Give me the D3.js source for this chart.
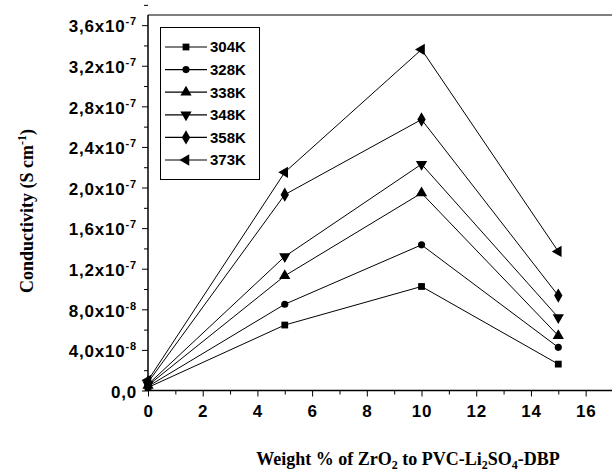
<!DOCTYPE html>
<html>
<head>
<meta charset="utf-8">
<script src="https://cdn.jsdelivr.net/npm/d3@7"></script>
<style>
  body { margin: 0; background: #fff; }
  .tick-lab { font-family: "Liberation Sans", Arial, sans-serif; font-weight: bold; font-size: 17px; }
  .title { font-family: "Liberation Serif", "Times New Roman", serif; font-weight: bold; }
</style>
</head>
<body>
<script>
// data
var weight = [0, 5, 10, 15];
var series = ["304K", "328K", "338K", "348K", "358K", "373K"];
var cond304 = [0.3e-8, 6.45e-8, 10.25e-8, 2.6e-8];
var cond328 = [0.4e-8, 8.5e-8, 14.35e-8, 4.25e-8];
var cond338 = [0.5e-8, 11.3e-8, 19.45e-8, 5.4e-8];
var cond348 = [0.6e-8, 13.2e-8, 22.3e-8, 7.2e-8];
var cond358 = [0.8e-8, 19.3e-8, 26.7e-8, 9.35e-8];
var cond373 = [1.0e-8, 21.5e-8, 33.6e-8, 13.7e-8];
var allCond = [cond304, cond328, cond338, cond348, cond358, cond373];
var xTicks = [0, 2, 4, 6, 8, 10, 12, 14, 16];
var yTicks = [0, 4e-8, 8e-8, 1.2e-7, 1.6e-7, 2.0e-7, 2.4e-7, 2.8e-7, 3.2e-7, 3.6e-7];

var W = 612, H = 474;
var svg = d3.select("body").append("svg")
  .attr("width", W)
  .attr("height", H);

var x = d3.scaleLinear().domain([0, 17]).range([148, 613]);
var y = d3.scaleLinear().domain([0, 3.7e-7]).range([390.5, 15]);

//
// symbols
//
var tri = d3.symbol().type(d3.symbolTriangle);
var markers = [
  { path: d3.symbol().type(d3.symbolSquare).size(46)(), rot: 0 },
  { path: d3.symbol().type(d3.symbolCircle).size(40)(), rot: 0 },
  { path: tri.size(55)(), rot: 0 },
  { path: tri.size(55)(), rot: 180 },
  { path: d3.symbol().type(d3.symbolDiamond).size(60)(), rot: 0 },
  { path: tri.size(55)(), rot: -90 }
];

// frame
svg.append("line").attr("x1", x(0)).attr("x2", x(0)).attr("y1", y.range()[1]).attr("y2", y(0))
  .attr("stroke", "#000").attr("stroke-width", 1.5);
svg.append("line").attr("x1", x(0)).attr("x2", x(17)).attr("y1", y(0)).attr("y2", y(0))
  .attr("stroke", "#000").attr("stroke-width", 1.5);
svg.append("line").attr("x1", x(0)).attr("x2", x(17)).attr("y1", y.range()[1]).attr("y2", y.range()[1])
  .attr("stroke", "#000").attr("stroke-width", 1.2);

// x axis
var xAxis = d3.axisBottom(x).tickValues(xTicks).tickSize(6).tickFormat(d3.format("d"));
var gx = svg.append("g").attr("transform", "translate(0," + y(0) + ")").call(xAxis);
gx.select(".domain").remove();
gx.selectAll("text").attr("class", "tick-lab").attr("dy", "1.0em").attr("fill", "#000")
  .style("letter-spacing", "0.8px");
var xMinor = d3.axisBottom(x).tickValues(d3.range(1, 17, 2)).tickSize(4).tickFormat("");
var gxm = svg.append("g").attr("transform", "translate(0," + y(0) + ")").call(xMinor);
gxm.select(".domain").remove();

// y axis
var yAxis = d3.axisLeft(y).tickValues(yTicks).tickSize(6).tickFormat("");
var gy = svg.append("g").attr("transform", "translate(" + x(0) + ",0)").call(yAxis);
gy.select(".domain").remove();
var yMinor = d3.axisLeft(y).tickValues(yTicks.map(function(d) { return d + 2e-8; })).tickSize(4).tickFormat("");
var gym = svg.append("g").attr("transform", "translate(" + x(0) + ",0)").call(yMinor);
gym.select(".domain").remove();

gy.selectAll(".tick").each(function(d) {
  var t = d3.select(this).append("text")
    .attr("class", "tick-lab")
    .attr("x", -11)
    .attr("dy", "0.4em")
    .attr("text-anchor", "end")
    .attr("fill", "#000")
    .style("letter-spacing", "0.8px");
  if (d === 0) { t.text("0,0"); return; }
  var e = Math.floor(Math.log10(d) + 1e-9);
  var m = d / Math.pow(10, e);
  t.append("tspan").text(m.toFixed(1).replace(".", ",") + "x10");
  t.append("tspan").attr("dy", -7).style("font-size", "11px").text(String(e));
});

// lines and markers
var line = d3.line()
  .x(function(d, i) { return x(weight[i]); })
  .y(function(d) { return y(d); });

allCond.forEach(function(vals, k) {
  svg.append("path")
    .attr("d", line(vals))
    .attr("fill", "none")
    .attr("stroke", "#000")
    .attr("stroke-width", 1);
  svg.selectAll(".m" + k).data(vals).enter().append("path")
    .attr("class", "m" + k)
    .attr("d", markers[k].path)
    .attr("transform", function(d, i) {
      return "translate(" + x(weight[i]) + "," + y(d) + ") rotate(" + markers[k].rot + ")";
    })
    .attr("fill", "#000");
});

// legend
var lg = svg.append("g");
lg.append("rect").attr("x", 160.5).attr("y", 27.5).attr("width", 99).attr("height", 152)
  .attr("fill", "#fff").attr("stroke", "#000").attr("stroke-width", 1);
series.forEach(function(s, k) {
  var yy = 47 + k * 22.6;
  lg.append("line").attr("x1", 165).attr("x2", 207).attr("y1", yy).attr("y2", yy)
    .attr("stroke", "#000").attr("stroke-width", 1.2);
  lg.append("path").attr("d", markers[k].path)
    .attr("transform", "translate(186," + yy + ") rotate(" + markers[k].rot + ")")
    .attr("fill", "#000");
  lg.append("text").attr("class", "tick-lab").attr("x", 210).attr("y", yy).attr("dy", "0.36em")
    .style("font-size", "15px").text(s);
});

// axis titles
var xt = svg.append("text").attr("class", "title")
  .attr("x", 408).attr("y", 465).attr("text-anchor", "middle").style("font-size", "18px");
xt.append("tspan").text("Weight % of ZrO");
xt.append("tspan").attr("dy", 4).style("font-size", "12px").text("2");
xt.append("tspan").attr("dy", -4).text(" to PVC-Li");
xt.append("tspan").attr("dy", 4).style("font-size", "12px").text("2");
xt.append("tspan").attr("dy", -4).text("SO");
xt.append("tspan").attr("dy", 4).style("font-size", "12px").text("4");
xt.append("tspan").attr("dy", -4).text("-DBP");

var yt = svg.append("text").attr("class", "title")
  .attr("transform", "translate(33,211) rotate(-90)")
  .attr("text-anchor", "middle").style("font-size", "18px");
yt.append("tspan").text("Conductivity (S cm");
yt.append("tspan").attr("dy", -7).style("font-size", "12px").text("-1");
yt.append("tspan").attr("dy", 7).text(")");
</script>
</body>
</html>
